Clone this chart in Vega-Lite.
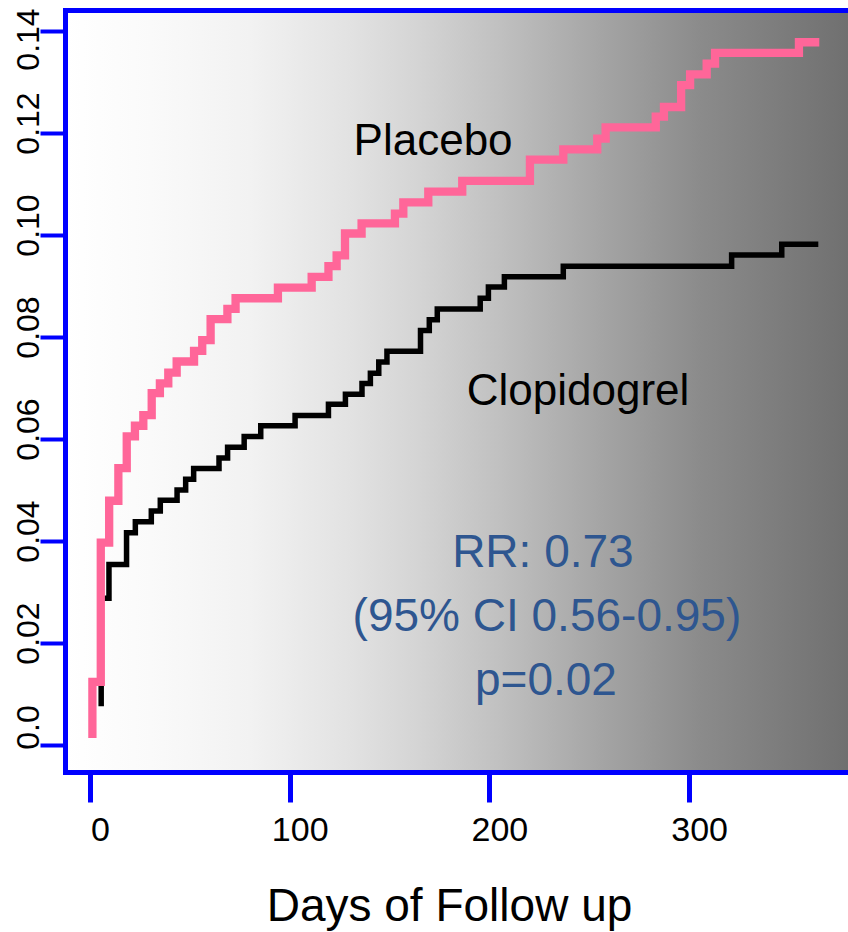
{
  "$schema": "https://vega.github.io/schema/vega-lite/v6.json",
  "width": 783,
  "height": 762,
  "autosize": {"type": "none"},
  "padding": {"left": 65, "top": 10, "right": 0, "bottom": 160},
  "background": "white",
  "config": {
    "font": "Liberation Sans",
    "view": {
      "stroke": null,
      "fill": {
        "gradient": "linear",
        "x1": 0, "y1": 0, "x2": 1, "y2": 0,
        "stops": [
          {"offset": 0, "color": "#ffffff"},
          {"offset": 0.11, "color": "#fafafa"},
          {"offset": 0.236, "color": "#f2f2f2"},
          {"offset": 0.364, "color": "#e2e2e2"},
          {"offset": 0.453, "color": "#d4d4d4"},
          {"offset": 0.556, "color": "#c0c0c0"},
          {"offset": 0.683, "color": "#a5a5a5"},
          {"offset": 0.811, "color": "#8b8b8b"},
          {"offset": 1, "color": "#707070"}
        ]
      }
    }
  },
  "datasets": {
    "km": [
      {"group": "Clopidogrel", "day": 5.6, "risk": 0.0076},
      {"group": "Clopidogrel", "day": 5.6, "risk": 0.0288},
      {"group": "Clopidogrel", "day": 9.5, "risk": 0.0354},
      {"group": "Clopidogrel", "day": 18.3, "risk": 0.0416},
      {"group": "Clopidogrel", "day": 22.7, "risk": 0.0438},
      {"group": "Clopidogrel", "day": 30.7, "risk": 0.0459},
      {"group": "Clopidogrel", "day": 35.2, "risk": 0.048},
      {"group": "Clopidogrel", "day": 43.6, "risk": 0.05},
      {"group": "Clopidogrel", "day": 47.9, "risk": 0.0521},
      {"group": "Clopidogrel", "day": 51.9, "risk": 0.0542},
      {"group": "Clopidogrel", "day": 64.6, "risk": 0.0563},
      {"group": "Clopidogrel", "day": 68.9, "risk": 0.0584},
      {"group": "Clopidogrel", "day": 77.2, "risk": 0.0605},
      {"group": "Clopidogrel", "day": 85.5, "risk": 0.0626},
      {"group": "Clopidogrel", "day": 102.7, "risk": 0.0646},
      {"group": "Clopidogrel", "day": 119.4, "risk": 0.0668},
      {"group": "Clopidogrel", "day": 127.9, "risk": 0.0688},
      {"group": "Clopidogrel", "day": 136.2, "risk": 0.0709},
      {"group": "Clopidogrel", "day": 140.4, "risk": 0.0729},
      {"group": "Clopidogrel", "day": 144.6, "risk": 0.0751},
      {"group": "Clopidogrel", "day": 148.7, "risk": 0.0772},
      {"group": "Clopidogrel", "day": 165.5, "risk": 0.0813},
      {"group": "Clopidogrel", "day": 169.9, "risk": 0.0834},
      {"group": "Clopidogrel", "day": 173.9, "risk": 0.0855},
      {"group": "Clopidogrel", "day": 195.4, "risk": 0.0876},
      {"group": "Clopidogrel", "day": 199.5, "risk": 0.0898},
      {"group": "Clopidogrel", "day": 207.5, "risk": 0.0918},
      {"group": "Clopidogrel", "day": 237.0, "risk": 0.0939},
      {"group": "Clopidogrel", "day": 321.3, "risk": 0.0961},
      {"group": "Clopidogrel", "day": 346.4, "risk": 0.0982},
      {"group": "Clopidogrel", "day": 364.7, "risk": 0.0982},
      {"group": "Placebo", "day": 1.2, "risk": 0.0014},
      {"group": "Placebo", "day": 1.2, "risk": 0.0124},
      {"group": "Placebo", "day": 5.4, "risk": 0.0397},
      {"group": "Placebo", "day": 9.6, "risk": 0.0479},
      {"group": "Placebo", "day": 14.2, "risk": 0.0543},
      {"group": "Placebo", "day": 18.4, "risk": 0.0605},
      {"group": "Placebo", "day": 22.5, "risk": 0.0626},
      {"group": "Placebo", "day": 26.7, "risk": 0.0647},
      {"group": "Placebo", "day": 30.9, "risk": 0.069},
      {"group": "Placebo", "day": 35.0, "risk": 0.0709},
      {"group": "Placebo", "day": 39.2, "risk": 0.073},
      {"group": "Placebo", "day": 43.4, "risk": 0.0752},
      {"group": "Placebo", "day": 52.1, "risk": 0.0773},
      {"group": "Placebo", "day": 56.2, "risk": 0.0794},
      {"group": "Placebo", "day": 60.4, "risk": 0.0835},
      {"group": "Placebo", "day": 68.8, "risk": 0.0855},
      {"group": "Placebo", "day": 72.9, "risk": 0.0876},
      {"group": "Placebo", "day": 94.1, "risk": 0.0897},
      {"group": "Placebo", "day": 111.0, "risk": 0.0918},
      {"group": "Placebo", "day": 119.4, "risk": 0.0939},
      {"group": "Placebo", "day": 123.5, "risk": 0.096},
      {"group": "Placebo", "day": 127.7, "risk": 0.1003},
      {"group": "Placebo", "day": 136.0, "risk": 0.1023},
      {"group": "Placebo", "day": 152.7, "risk": 0.1042},
      {"group": "Placebo", "day": 156.9, "risk": 0.1064},
      {"group": "Placebo", "day": 169.4, "risk": 0.1085},
      {"group": "Placebo", "day": 186.4, "risk": 0.1106},
      {"group": "Placebo", "day": 220.3, "risk": 0.1148},
      {"group": "Placebo", "day": 237.0, "risk": 0.1168},
      {"group": "Placebo", "day": 254.0, "risk": 0.1189},
      {"group": "Placebo", "day": 258.2, "risk": 0.1211},
      {"group": "Placebo", "day": 283.3, "risk": 0.1232},
      {"group": "Placebo", "day": 287.4, "risk": 0.1251},
      {"group": "Placebo", "day": 296.0, "risk": 0.1294},
      {"group": "Placebo", "day": 300.5, "risk": 0.1315},
      {"group": "Placebo", "day": 308.8, "risk": 0.1336},
      {"group": "Placebo", "day": 313.0, "risk": 0.1357},
      {"group": "Placebo", "day": 355.0, "risk": 0.1378},
      {"group": "Placebo", "day": 365.2, "risk": 0.1378}
    ]
  },
  "resolve": {"axis": {"x": "independent", "y": "independent"}},
  "layer": [
    {
      "data": {"name": "km"},
      "transform": [{"filter": "datum.group === 'Clopidogrel'"}],
      "mark": {"type": "line", "interpolate": "step-after", "color": "#000000", "strokeWidth": 5.5},
      "encoding": {
        "x": {
          "field": "day", "type": "quantitative",
          "scale": {"domain": [-12.52, 379.57], "nice": false, "zero": false},
          "axis": {
            "orient": "bottom",
            "values": [0, 100, 200, 300],
            "format": "d",
            "grid": false,
            "domainColor": "#0000FF", "domainWidth": 5, "domainCap": "square",
            "tickColor": "#0000FF", "tickWidth": 5, "tickSize": 30,
            "labelFont": "Liberation Sans", "labelFontSize": 34, "labelColor": "#000000",
            "labelPadding": 11, "labelOffset": 10, "labelFlush": false,
            "title": "Days of Follow up",
            "titleFont": "Liberation Sans", "titleFontSize": 46, "titleFontWeight": "normal",
            "titleColor": "#000000", "titleAlign": "center", "titleBaseline": "alphabetic",
            "titleX": 384, "titleY": 148
          }
        },
        "y": {
          "field": "risk", "type": "quantitative",
          "scale": {"domain": [-0.00529, 0.14412], "nice": false, "zero": false},
          "axis": {
            "orient": "left",
            "values": [0, 0.02, 0.04, 0.06, 0.08, 0.1, 0.12, 0.14],
            "labelExpr": "datum.value == 0 ? '0.0' : format(datum.value, '.2f')",
            "grid": false,
            "domainColor": "#0000FF", "domainWidth": 5, "domainCap": "square",
            "tickColor": "#0000FF", "tickWidth": 4, "tickSize": 25,
            "labelFont": "Liberation Sans", "labelFontSize": 32, "labelColor": "#000000",
            "labelAngle": 270, "labelAlign": "center", "labelBaseline": "alphabetic",
            "labelPadding": 2, "labelOverlap": false,
            "labelOffset": {
              "condition": [
                {"test": "datum.value > 0.13", "value": 8},
                {"test": "datum.value < 0.01", "value": -18}
              ],
              "value": -10
            },
            "title": null
          }
        },
        "order": {"value": null}
      }
    },
    {
      "data": {"name": "km"},
      "transform": [{"filter": "datum.group === 'Placebo'"}],
      "mark": {"type": "line", "interpolate": "step-after", "color": "#FF6699", "strokeWidth": 8.3},
      "encoding": {
        "x": {
          "field": "day", "type": "quantitative",
          "scale": {"domain": [-12.52, 379.57], "nice": false, "zero": false},
          "axis": {
            "orient": "top",
            "grid": false, "ticks": false, "labels": false, "title": null,
            "domainColor": "#0000FF", "domainWidth": 5, "domainCap": "square"
          }
        },
        "y": {
          "field": "risk", "type": "quantitative",
          "scale": {"domain": [-0.00529, 0.14412], "nice": false, "zero": false},
          "axis": null
        },
        "order": {"value": null}
      }
    },
    {
      "data": {"values": [{"note": "Placebo"}]},
      "mark": {"type": "text", "font": "Liberation Sans", "fontSize": 44, "align": "center", "baseline": "alphabetic", "color": "#000000"},
      "encoding": {
        "x": {"datum": 171.8, "type": "quantitative", "scale": {"domain": [-12.52, 379.57], "nice": false, "zero": false}, "axis": null},
        "y": {"datum": 0.1157, "type": "quantitative", "scale": {"domain": [-0.00529, 0.14412], "nice": false, "zero": false}, "axis": null},
        "text": {"field": "note"}
      }
    },
    {
      "data": {"values": [{"note": "Clopidogrel"}]},
      "mark": {"type": "text", "font": "Liberation Sans", "fontSize": 44, "align": "center", "baseline": "alphabetic", "color": "#000000"},
      "encoding": {
        "x": {"datum": 244.4, "type": "quantitative", "scale": {"domain": [-12.52, 379.57], "nice": false, "zero": false}, "axis": null},
        "y": {"datum": 0.0667, "type": "quantitative", "scale": {"domain": [-0.00529, 0.14412], "nice": false, "zero": false}, "axis": null},
        "text": {"field": "note"}
      }
    },
    {
      "data": {"values": [{"note": "RR: 0.73"}]},
      "mark": {"type": "text", "font": "Liberation Sans", "fontSize": 46, "align": "center", "baseline": "alphabetic", "color": "#2E5690"},
      "encoding": {
        "x": {"datum": 226.8, "type": "quantitative", "scale": {"domain": [-12.52, 379.57], "nice": false, "zero": false}, "axis": null},
        "y": {"datum": 0.0349, "type": "quantitative", "scale": {"domain": [-0.00529, 0.14412], "nice": false, "zero": false}, "axis": null},
        "text": {"field": "note"}
      }
    },
    {
      "data": {"values": [{"note": "(95% CI 0.56-0.95)"}]},
      "mark": {"type": "text", "font": "Liberation Sans", "fontSize": 46, "align": "center", "baseline": "alphabetic", "color": "#2E5690"},
      "encoding": {
        "x": {"datum": 228.8, "type": "quantitative", "scale": {"domain": [-12.52, 379.57], "nice": false, "zero": false}, "axis": null},
        "y": {"datum": 0.02235, "type": "quantitative", "scale": {"domain": [-0.00529, 0.14412], "nice": false, "zero": false}, "axis": null},
        "text": {"field": "note"}
      }
    },
    {
      "data": {"values": [{"note": "p=0.02"}]},
      "mark": {"type": "text", "font": "Liberation Sans", "fontSize": 46, "align": "center", "baseline": "alphabetic", "color": "#2E5690"},
      "encoding": {
        "x": {"datum": 228.3, "type": "quantitative", "scale": {"domain": [-12.52, 379.57], "nice": false, "zero": false}, "axis": null},
        "y": {"datum": 0.0098, "type": "quantitative", "scale": {"domain": [-0.00529, 0.14412], "nice": false, "zero": false}, "axis": null},
        "text": {"field": "note"}
      }
    }
  ]
}
